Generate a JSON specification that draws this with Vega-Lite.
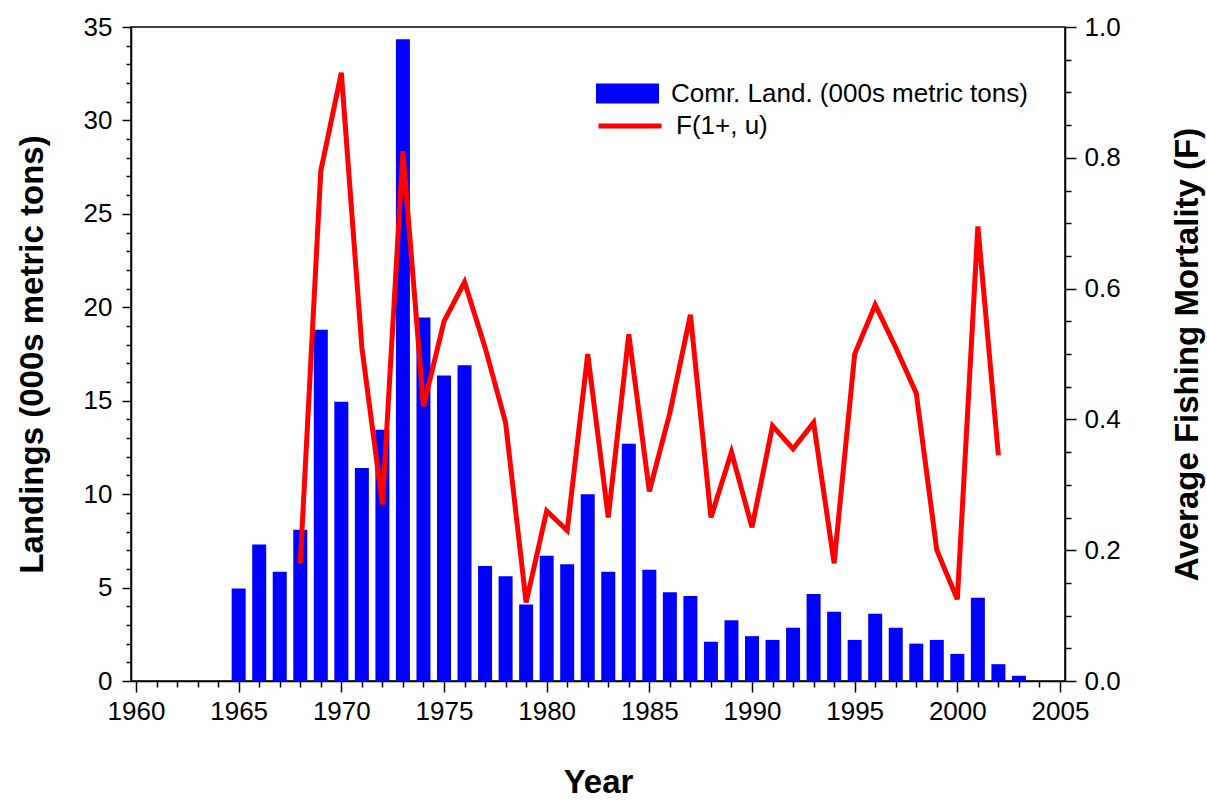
{
  "$schema": "https://vega.github.io/schema/vega-lite/v6.json",
  "width": 934,
  "height": 654,
  "autosize": {"type": "none"},
  "padding": {"left": 131, "top": 27, "right": 142, "bottom": 123},
  "background": "white",
  "config": {
    "font": "Liberation Sans",
    "view": {"stroke": "black", "strokeWidth": 1.5},
    "axis": {
      "grid": false,
      "domainColor": "black",
      "domainWidth": 1.5,
      "tickColor": "black",
      "tickWidth": 1.5,
      "labelColor": "black",
      "labelFont": "Liberation Sans",
      "labelFontSize": 26,
      "titleFont": "Liberation Sans",
      "titleColor": "black",
      "titleFontWeight": "bold"
    }
  },
  "data": {
    "values": [
      {"year": 1965, "land": 4.95, "F": null},
      {"year": 1966, "land": 7.3, "F": null},
      {"year": 1967, "land": 5.85, "F": null},
      {"year": 1968, "land": 8.1, "F": 0.18},
      {"year": 1969, "land": 18.8, "F": 0.78},
      {"year": 1970, "land": 14.95, "F": 0.93},
      {"year": 1971, "land": 11.4, "F": 0.51},
      {"year": 1972, "land": 13.45, "F": 0.27},
      {"year": 1973, "land": 34.35, "F": 0.81},
      {"year": 1974, "land": 19.45, "F": 0.42},
      {"year": 1975, "land": 16.35, "F": 0.55},
      {"year": 1976, "land": 16.9, "F": 0.61},
      {"year": 1977, "land": 6.15, "F": 0.51},
      {"year": 1978, "land": 5.6, "F": 0.395},
      {"year": 1979, "land": 4.1, "F": 0.12},
      {"year": 1980, "land": 6.7, "F": 0.26},
      {"year": 1981, "land": 6.25, "F": 0.23},
      {"year": 1982, "land": 10.0, "F": 0.5},
      {"year": 1983, "land": 5.85, "F": 0.25},
      {"year": 1984, "land": 12.7, "F": 0.53},
      {"year": 1985, "land": 5.95, "F": 0.29},
      {"year": 1986, "land": 4.75, "F": 0.41},
      {"year": 1987, "land": 4.55, "F": 0.56},
      {"year": 1988, "land": 2.1, "F": 0.25},
      {"year": 1989, "land": 3.25, "F": 0.35},
      {"year": 1990, "land": 2.4, "F": 0.235},
      {"year": 1991, "land": 2.2, "F": 0.39},
      {"year": 1992, "land": 2.85, "F": 0.355},
      {"year": 1993, "land": 4.65, "F": 0.395},
      {"year": 1994, "land": 3.7, "F": 0.18},
      {"year": 1995, "land": 2.2, "F": 0.5},
      {"year": 1996, "land": 3.6, "F": 0.575},
      {"year": 1997, "land": 2.85, "F": 0.51},
      {"year": 1998, "land": 2.0, "F": 0.44},
      {"year": 1999, "land": 2.2, "F": 0.2},
      {"year": 2000, "land": 1.45, "F": 0.125},
      {"year": 2001, "land": 4.45, "F": 0.695},
      {"year": 2002, "land": 0.9, "F": 0.345},
      {"year": 2003, "land": 0.28, "F": null}
    ]
  },
  "encoding": {
    "x": {
      "field": "year",
      "type": "quantitative",
      "scale": {"domain": [1960, 2005], "nice": false, "zero": false},
      "axis": {
        "title": "Year",
        "titleFontSize": 33,
        "titleY": 111,
        "titleBaseline": "alphabetic",
        "format": "d",
        "values": [1960,1961,1962,1963,1964,1965,1966,1967,1968,1969,1970,1971,1972,1973,1974,1975,1976,1977,1978,1979,1980,1981,1982,1983,1984,1985,1986,1987,1988,1989,1990,1991,1992,1993,1994,1995,1996,1997,1998,1999,2000,2001,2002,2003,2004,2005],
        "labelExpr": "datum.value % 5 === 0 ? datum.label : ''",
        "tickSize": {"condition": {"test": "datum.value % 5 === 0", "value": 11}, "value": 6},
        "labelPadding": 6,
        "labelFlush": false,
        "labelOverlap": false
      }
    }
  },
  "layer": [
    {
      "mark": {"type": "bar", "width": 14},
      "encoding": {
        "y": {
          "field": "land",
          "type": "quantitative",
          "scale": {"domain": [0, 35], "nice": false},
          "axis": {
            "title": "Landings (000s metric tons)",
            "titleFontSize": 33,
            "titleX": -99,
            "titleBaseline": "middle",
            "values": [0,1,2,3,4,5,6,7,8,9,10,11,12,13,14,15,16,17,18,19,20,21,22,23,24,25,26,27,28,29,30,31,32,33,34,35],
            "labelExpr": "datum.value % 5 === 0 ? datum.label : ''",
            "tickSize": {"condition": {"test": "datum.value % 5 === 0", "value": 9}, "value": 5},
            "labelPadding": 10,
            "labelOverlap": false,
            "labelFlush": false
          }
        },
        "fill": {
          "datum": "Comr. Land. (000s metric tons)",
          "type": "nominal",
          "scale": {"range": ["#0000FF"]},
          "legend": {
            "title": null,
            "orient": "none",
            "legendX": 465,
            "legendY": 35,
            "symbolType": "M-1,-0.32H1V0.32H-1Z",
            "symbolSize": 3969,
            "symbolStrokeWidth": 0,
            "labelFontSize": 26,
            "labelFont": "Liberation Sans",
            "labelColor": "black",
            "labelOffset": 12,
            "labelLimit": 500
          }
        }
      }
    },
    {
      "mark": {"type": "line", "strokeWidth": 5},
      "encoding": {
        "y": {
          "field": "F",
          "type": "quantitative",
          "scale": {"domain": [0, 1], "nice": false},
          "axis": {
            "orient": "right",
            "title": "Average Fishing Mortality (F)",
            "titleFontSize": 33,
            "titleAngle": -90,
            "titleX": 122,
            "titleBaseline": "middle",
            "format": ".1f",
            "values": [0,0.05,0.1,0.15,0.2,0.25,0.3,0.35,0.4,0.45,0.5,0.55,0.6,0.65,0.7,0.75,0.8,0.85,0.9,0.95,1.0],
            "labelExpr": "abs(datum.value*5 - round(datum.value*5)) < 0.001 ? datum.label : ''",
            "tickSize": {"condition": {"test": "abs(datum.value*5 - round(datum.value*5)) < 0.001", "value": 11}, "value": 6},
            "labelPadding": 8,
            "labelOverlap": false,
            "labelFlush": false
          }
        },
        "stroke": {
          "datum": "F(1+, u)",
          "type": "nominal",
          "scale": {"range": ["#FF0000"]},
          "legend": {
            "title": null,
            "orient": "none",
            "legendX": 465,
            "legendY": 65,
            "symbolType": "stroke",
            "symbolSize": 3969,
            "symbolStrokeWidth": 5,
            "labelFontSize": 26,
            "labelFont": "Liberation Sans",
            "labelColor": "black",
            "labelOffset": 12,
            "labelLimit": 500
          }
        }
      }
    }
  ],
  "resolve": {"scale": {"y": "independent"}}
}
